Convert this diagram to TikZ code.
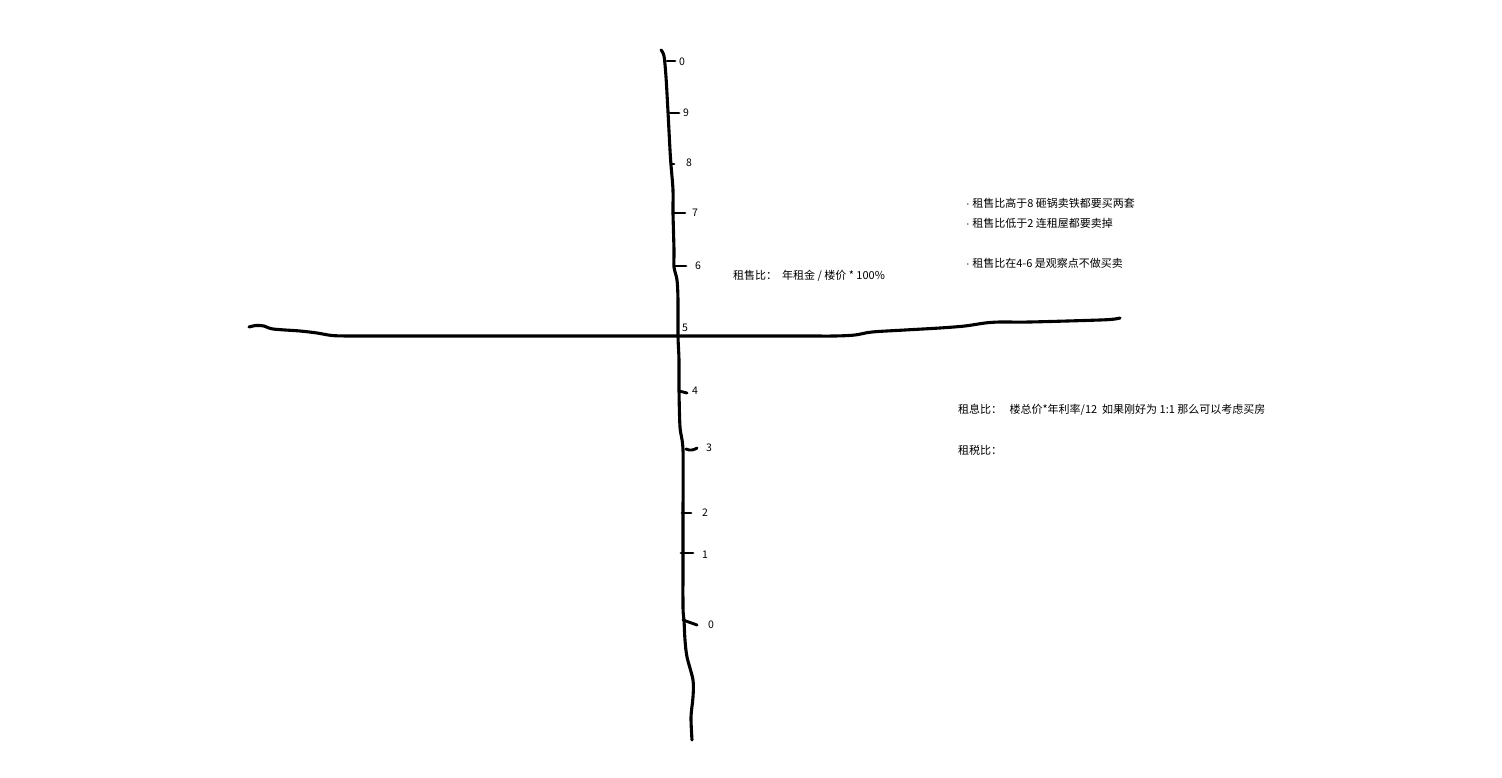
\documentclass[tikz,border=0pt]{standalone}
\usepackage{fontspec}
\setmainfont{Noto Sans CJK SC}
\newfontfamily\latfont{Liberation Sans}
\begin{document}
\begin{tikzpicture}[x=1pt,y=-1pt,
  pen/.style={line width=3.1pt,line cap=round,line join=round,black},
  tick/.style={line width=2.9pt,line cap=round,black},
  num/.style={font=\fontsize{10.5}{12}\selectfont,inner sep=0pt,anchor=center},
  note/.style={font=\fontsize{11}{13}\selectfont,inner sep=0pt,anchor=west}]
\useasboundingbox[fill=white] (0,0) rectangle (1502,778);
% horizontal axis
\draw[pen] plot[smooth,tension=0.5] coordinates {(249,327) (256,325.5) (264,326) (273,329) (300,331) (317,333) (332,335.5) (350,336) (400,336) (680,336) (800,336) (835,336) (855,335) (872,332) (905,330) (940,328) (965,326) (985,323) (1000,322) (1030,322) (1100,320) (1115,319) (1120,318)};
% vertical axis
\draw[pen] plot[smooth,tension=0.5] coordinates {(661,50) (664,56) (666,77) (668,112) (670,150) (671,165) (673,190) (673,213) (674,250) (674,267) (677,280) (678,300) (678,336) (679,360) (679,390) (680,427) (683,450) (683,513) (683,553) (683,607) (684,620) (685,640) (687,657) (693,680) (693,697) (691,717) (692,740)};
% ticks
\draw[tick] (667,61) -- (675,61);
\draw[tick] (670,113) -- (679,113);
\draw[tick] (671,164) -- (674,164);
\draw[tick] (673,213) -- (685,213);
\draw[tick] (675,266) -- (686,266);
\draw[tick] (679,391) -- (687,393);
\draw[tick] (686,449) .. controls (690,451) and (694,450) .. (697,448);
\draw[tick] (682,513) -- (691,513);
\draw[tick] (681,553) -- (693,553);
\draw[tick] (683,620) -- (697,625);
% tick labels
\node[num] (t0a) at (682,62) {0};
\node[num] (t9) at (686,113) {9};
\node[num] (t8) at (689,163) {8};
\node[num] (t7) at (695,213) {7};
\node[num] (t6) at (698,266) {6};
\node[num] (t5) at (685,328) {5};
\node[num] (t4) at (695,391) {4};
\node[num] (t3) at (709,448) {3};
\node[num] (t2) at (705,513) {2};
\node[num] (t1) at (705,555) {1};
\node[num] (t0b) at (711,625) {0};
% notes
\node[note] (formula) at (733,276) {租售比：\ \ 年租金 / 楼价 * 100\%};
\node[note] (r1) at (966,203) {{\latfont ·} 租售比高于8 砸锅卖铁都要买两套};
\node[note] (r2) at (966,223) {{\latfont ·} 租售比低于2 连租屋都要卖掉};
\node[note] (r3) at (966,263) {{\latfont ·} 租售比在4-6 是观察点不做买卖};
\node[note] (interest) at (958,410) {租息比：\ \ \ 楼总价*年利率/12\ \ 如果刚好为 1:1 那么可以考虑买房};
\node[note] (tax) at (958,450) {租税比：};
\end{tikzpicture}
\end{document}
